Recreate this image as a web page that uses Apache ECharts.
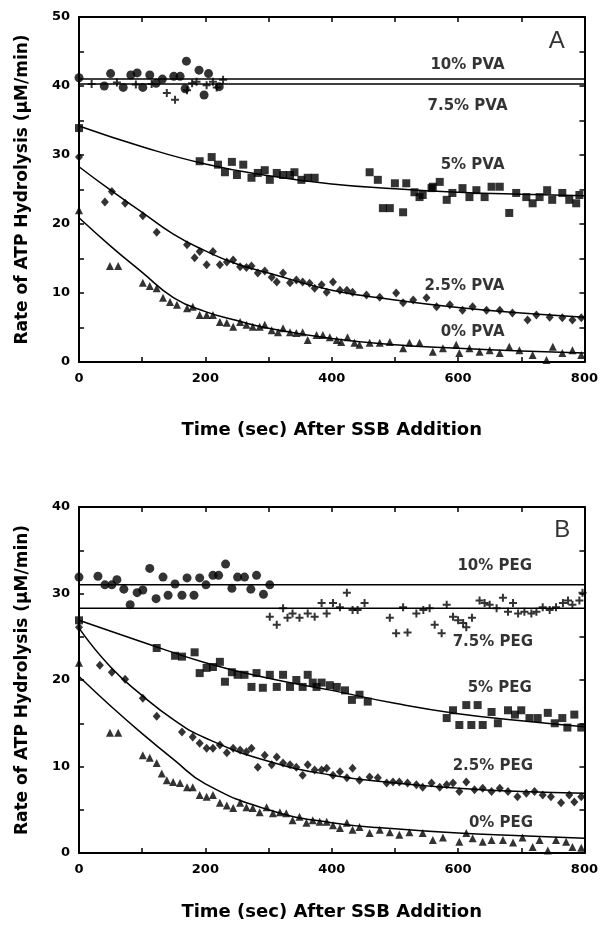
<!DOCTYPE html>
<html>
<head>
<meta charset="utf-8">
<script src="https://cdn.jsdelivr.net/npm/echarts@6/dist/echarts.min.js"></script>
<style>
  html, body { margin: 0; padding: 0; background: #fff; }
  #chart { width: 601px; height: 928px; }
</style>
</head>
<body>
<div id="chart"></div>
<script>
// ---- panel A : PVA ----
var pva10 = [[0,41.2],[40,40.0],[50,41.8],[70,39.8],[82,41.6],[92,41.9],[101,39.8],[112,41.6],[122,40.4],[132,41.0],[150,41.4],[160,41.4],[170,43.6],[168,39.6],[190,42.3],[198,38.7],[205,41.8],[222,39.9]];
var pva75 = [[20,40.3],[60,40.5],[90,40.2],[115,40.3],[139,39.0],[152,38.0],[171,39.4],[179,40.4],[186,40.6],[202,40.1],[212,40.6],[218,39.8],[228,40.9]];
var pva5 = [[0,33.9],[191,29.1],[210,29.7],[220,28.6],[231,27.5],[242,29.0],[250,27.1],[260,28.6],[273,26.7],[283,27.4],[294,27.8],[302,26.4],[313,27.4],[323,27.1],[334,27.1],[341,27.5],[352,26.4],[362,26.7],[373,26.7],
  [460,27.5],[473,26.4],[481,22.3],[492,22.3],[500,25.9],[513,21.7],[518,25.9],[531,24.6],[539,23.9],[544,24.2],[558,25.2],[560,25.4],[571,26.1],[582,23.5],[591,24.5],[607,25.2],[618,23.9],[629,24.9],[642,23.9],[653,25.4],[666,25.4],[681,21.6],[692,24.5],[708,23.9],[718,23.0],[729,23.9],[741,24.9],[749,23.5],[765,24.5],[776,23.5],[787,23.0],[792,24.2]];
var pva25 = [[0,29.7],[41,23.2],[52,24.7],[73,23.0],[101,21.2],[123,18.8],[171,17.0],[183,15.1],[191,16.0],[202,14.1],[212,16.0],[223,14.1],[234,14.5],[244,14.8],[255,13.8],[265,13.7],[273,13.9],[283,12.9],[294,13.2],[305,12.3],[313,11.6],[323,12.9],[334,11.5],[344,11.9],[354,11.6],[365,11.4],[373,10.7],[384,11.2],[392,10.1],[402,11.6],[413,10.4],[424,10.4],[433,10.1],
  [455,9.7],[476,9.4],[502,10.0],[513,8.6],[529,9.0],[550,9.3],[566,8.0],[587,8.3],[607,7.5],[623,8.0],[645,7.5],[666,7.5],[686,7.1],[710,6.1],[724,6.8],[745,6.5],[765,6.4],[781,6.1],[795,6.4]];
var pva0 = [[0,22.0],[49,13.9],[62,13.9],[101,11.5],[112,11.0],[123,10.7],[133,9.3],[144,8.7],[155,8.3],[171,7.8],[180,8.0],[191,6.8],[202,6.8],[212,6.8],[223,5.8],[234,5.7],[244,5.1],[255,5.8],[265,5.4],[275,5.1],[286,5.1],[294,5.4],[305,4.6],[315,4.3],[323,4.9],[334,4.3],[344,4.2],[354,4.3],[362,3.2],[376,3.9],[386,3.9],[397,3.6],[408,3.2],[415,2.9],[425,3.6],[436,2.8],
  [444,2.5],[460,2.8],[476,2.8],[492,2.9],[513,2.0],[523,2.8],[539,2.8],[560,1.5],[576,2.0],[597,2.5],[602,1.3],[618,2.0],[634,1.5],[650,1.7],[666,1.3],[681,2.2],[697,1.7],[718,1.0],[740,0.3],[750,2.2],[765,1.3],[781,1.7],[795,1.0]];
var pvaLine10 = [[0,41.0],[800,41.0]];
var pvaLine75 = [[0,40.3],[800,40.3]];
var pvaFit5 = [[0,34.2],[100,31.2],[200,28.7],[300,27.0],[400,25.8],[500,25.1],[600,24.6],[700,24.3],[800,24.1]];
var pvaFit25 = [[0,28.3],[50,24.9],[100,21.7],[150,18.5],[200,16.1],[250,14.2],[300,12.9],[400,10.4],[500,9.0],[600,7.9],[700,7.1],[800,6.5]];
var pvaFit0 = [[0,20.9],[50,16.8],[100,13.0],[150,9.3],[200,7.3],[250,6.0],[300,4.9],[400,3.4],[500,2.5],[600,2.0],[700,1.6],[800,1.3]];
var pvaText = [[615,43.0,'10% PVA'],[615,37.1,'7.5% PVA'],[623,28.6,'5% PVA'],[610,11.0,'2.5% PVA'],[623,4.3,'0% PVA']];

// ---- panel B : PEG ----
var peg10 = [[0,31.9],[30,32.0],[41,31.0],[52,31.0],[60,31.6],[71,30.5],[81,28.7],[92,30.1],[101,30.4],[112,32.9],[122,29.4],[133,31.9],[141,29.8],[152,31.1],[163,29.8],[171,31.8],[182,29.8],[191,31.8],[201,31.0],[212,32.1],[221,32.1],[232,33.4],[242,30.6],[251,31.9],[262,31.9],[272,30.5],[281,32.1],[292,29.9],[302,31.0]];
var peg75 = [[302,27.3],[313,26.4],[323,28.3],[330,27.2],[338,27.7],[349,27.2],[362,27.7],[373,27.3],[384,28.9],[392,27.7],[402,28.9],[413,28.4],[424,30.1],[433,28.1],[441,28.1],[452,28.9],
  [492,27.2],[502,25.4],[513,28.4],[520,25.5],[534,27.7],[545,28.1],[555,28.3],[563,26.4],[574,25.4],[582,28.7],[592,27.3],[600,26.9],[608,26.6],[613,26.1],[622,27.2],[634,29.2],[642,28.9],[650,28.7],[661,28.3],[671,29.5],[679,27.9],[687,28.9],[695,27.7],[705,27.9],[716,27.7],[724,27.9],[734,28.4],[745,28.1],[755,28.4],[766,28.9],[774,29.2],[781,28.7],[792,29.2],[797,30.1]];
var peg5 = [[0,26.9],[123,23.7],[152,22.8],[163,22.7],[183,23.2],[191,20.8],[202,21.4],[212,21.5],[223,22.1],[231,19.8],[242,20.9],[251,20.6],[262,20.6],[273,19.2],[281,20.8],[291,19.1],[302,20.6],[313,19.2],[323,20.6],[334,19.2],[344,20.0],[354,19.2],[362,20.6],[370,19.7],[376,19.2],[384,19.7],[397,19.4],[408,19.2],[421,18.8],[432,17.7],[444,18.3],[457,17.5],
  [582,15.6],[592,16.5],[602,14.8],[613,17.1],[621,14.8],[631,17.1],[639,14.8],[653,16.3],[663,15.0],[679,16.5],[690,16.0],[700,16.5],[713,15.6],[726,15.6],[742,16.2],[753,15.0],[765,15.6],[773,14.5],[784,16.0],[795,14.5]];
var peg25 = [[0,26.1],[33,21.7],[52,20.9],[73,20.1],[101,17.9],[123,15.8],[163,14.0],[180,13.4],[191,12.7],[202,12.1],[212,12.1],[223,12.5],[234,11.6],[244,12.1],[255,11.9],[265,11.7],[273,12.1],[283,9.9],[294,11.3],[305,10.2],[313,11.1],[323,10.4],[334,10.2],[344,9.9],[354,9.0],[362,10.2],[373,9.6],[384,9.6],[392,9.8],[402,9.0],[413,9.4],[424,8.7],[433,9.8],
  [444,8.4],[460,8.8],[473,8.7],[487,8.1],[497,8.2],[507,8.2],[520,8.1],[534,7.9],[544,7.6],[558,8.1],[571,7.6],[582,7.9],[592,8.1],[602,7.1],[613,8.2],[626,7.3],[639,7.5],[653,7.1],[666,7.5],[679,7.1],[694,6.5],[708,6.9],[721,7.1],[734,6.7],[747,6.5],[763,5.8],[776,6.7],[784,5.9],[795,6.5]];
var peg0 = [[0,22.0],[49,13.9],[62,13.9],[101,11.3],[112,11.0],[123,10.4],[131,9.2],[139,8.4],[149,8.2],[160,8.1],[171,7.6],[180,7.6],[191,6.7],[202,6.5],[212,6.7],[223,5.8],[234,5.5],[244,5.2],[255,5.8],[265,5.3],[275,5.2],[286,4.7],[297,5.3],[307,4.6],[318,4.7],[328,4.6],[338,3.8],[349,4.2],[360,3.5],[370,3.8],[381,3.6],[392,3.6],[402,3.2],[413,2.9],[424,3.5],[433,2.7],
  [444,3.0],[460,2.3],[476,2.7],[492,2.4],[507,2.1],[523,2.4],[544,2.3],[560,1.5],[576,1.8],[602,1.3],[613,2.3],[623,1.7],[639,1.3],[653,1.5],[671,1.5],[687,1.2],[702,1.8],[718,0.7],[729,1.5],[742,0.3],[755,1.5],[771,1.3],[781,0.7],[795,0.6]];
var pegLine10 = [[0,31.0],[800,31.0]];
var pegLine75 = [[0,28.3],[800,28.3]];
var pegFit5 = [[0,26.9],[100,24.4],[200,22.0],[300,20.2],[400,18.8],[500,17.3],[600,16.1],[700,15.3],[800,14.6]];
var pegFit25 = [[0,26.0],[50,21.5],[100,18.2],[150,15.4],[200,13.3],[300,10.6],[400,9.0],[500,8.1],[600,7.5],[700,7.1],[800,6.9]];
var pegFit0 = [[0,20.4],[50,17.0],[100,13.8],[150,10.8],[200,8.0],[300,5.0],[400,3.5],[500,2.8],[600,2.3],[700,2.0],[800,1.7]];
var pegText = [[658,33.2,'10% PEG'],[655,24.4,'7.5% PEG'],[666,19.1,'5% PEG'],[655,10.1,'2.5% PEG'],[668,3.5,'0% PEG']];

var xTicks = { min: 0, max: 800, interval: 200 };
var yMaxA = 50, yMaxB = 40, yInterval = 10;

var FONT = '"DejaVu Sans", Verdana, sans-serif';
var LETTER_FONT = '"Liberation Sans", Arial, Helvetica, sans-serif';
var CROSS = 'path://M3,0H5V3H8V5H5V8H3V5H0V3H3Z';

var chart = echarts.init(document.getElementById('chart'));

function axisBase(extra) {
  var ax = {
    type: 'value',
    axisLine: { show: true, onZero: false, lineStyle: { color: '#000', width: 2 } },
    axisTick: { show: true, inside: true, length: 5, lineStyle: { color: '#000', width: 1.5 } },
    minorTick: { show: true, splitNumber: 2, length: 5, lineStyle: { color: '#000', width: 1.5 } },
    splitLine: { show: false },
    axisLabel: { show: false }
  };
  for (var k in extra) ax[k] = extra[k];
  return ax;
}

function labelStyle(margin) {
  return { show: true, color: '#000', fontWeight: 'bold', fontSize: 13, fontFamily: FONT, margin: margin };
}

function nameStyle(size) {
  return { color: '#000', fontWeight: 'bold', fontSize: size, fontFamily: FONT };
}

function makeXAxes(gi, gap) {
  return [
    axisBase({ gridIndex: gi, position: 'bottom', min: xTicks.min, max: xTicks.max, interval: xTicks.interval,
      axisLabel: labelStyle(10), name: 'Time (sec) After SSB Addition', nameLocation: 'middle', nameGap: gap, nameTextStyle: nameStyle(18) }),
    axisBase({ gridIndex: gi, position: 'top', min: xTicks.min, max: xTicks.max, interval: xTicks.interval })
  ];
}

function makeYAxes(gi, max) {
  return [
    axisBase({ gridIndex: gi, position: 'left', min: 0, max: max, interval: yInterval,
      axisLabel: labelStyle(9), name: 'Rate of ATP Hydrolysis (\u00b5M/min)', nameLocation: 'middle', nameGap: 48, nameTextStyle: nameStyle(17) }),
    axisBase({ gridIndex: gi, position: 'right', min: 0, max: max, interval: yInterval })
  ];
}

function scatter(data, symbol, size, ai) {
  return { type: 'scatter', data: data, symbol: symbol, symbolSize: size, xAxisIndex: ai, yAxisIndex: ai,
    itemStyle: { color: '#000' }, z: 5, silent: true };
}

function line(data, ai) {
  return { type: 'line', data: data, smooth: true, showSymbol: false, symbol: 'none', xAxisIndex: ai, yAxisIndex: ai,
    lineStyle: { color: '#000', width: 1.5 }, z: 3, silent: true };
}

function texts(data, ai) {
  return { type: 'scatter', data: data, symbolSize: 0, xAxisIndex: ai, yAxisIndex: ai, z: 6, silent: true,
    label: { show: true, position: 'inside', formatter: function(p) { return p.value[2]; },
      color: '#000', fontWeight: 'bold', fontSize: 15, fontFamily: FONT } };
}

function panelLetter(letter, x, y, ai) {
  return { type: 'scatter', data: [[x, y, letter]], symbolSize: 0, xAxisIndex: ai, yAxisIndex: ai, z: 6, silent: true,
    label: { show: true, position: 'inside', formatter: function(p) { return p.value[2]; },
      color: '#000', fontSize: 24, fontFamily: LETTER_FONT } };
}

var option = {
  animation: false,
  backgroundColor: '#fff',
  grid: [
    { left: 79, top: 17, width: 506, height: 345 },
    { left: 79, top: 507, width: 506, height: 346 }
  ],
  xAxis: makeXAxes(0, 59).concat(makeXAxes(1, 50)),
  yAxis: makeYAxes(0, yMaxA).concat(makeYAxes(1, yMaxB)),
  series: [
    line(pvaLine10, 0), line(pvaLine75, 0), line(pvaFit5, 0), line(pvaFit25, 0), line(pvaFit0, 0),
    scatter(pva10, 'circle', 9, 0),
    scatter(pva75, CROSS, 8, 0),
    scatter(pva5, 'rect', 8, 0),
    scatter(pva25, 'diamond', [8, 9], 0),
    scatter(pva0, 'triangle', 8, 0),
    texts(pvaText, 0),
    panelLetter('A', 756, 46.4, 0),

    line(pegLine10, 2), line(pegLine75, 2), line(pegFit5, 2), line(pegFit25, 2), line(pegFit0, 2),
    scatter(peg10, 'circle', 9, 2),
    scatter(peg75, CROSS, 8, 2),
    scatter(peg5, 'rect', 8, 2),
    scatter(peg25, 'diamond', [8, 9], 2),
    scatter(peg0, 'triangle', 8, 2),
    texts(pegText, 2),
    panelLetter('B', 765, 37.3, 2)
  ]
};

chart.setOption(option);
</script>
</body>
</html>
